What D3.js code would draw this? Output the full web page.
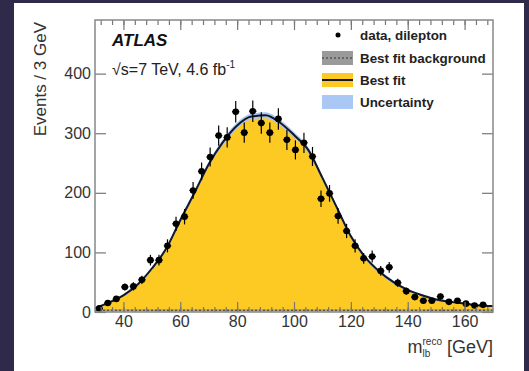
<!DOCTYPE html>
<html>
<head>
<meta charset="utf-8">
<script src="https://cdn.jsdelivr.net/npm/d3@7"></script>
<style>
	body { margin: 0; background: #2f2a4a; }
	svg { display: block; }
	text { font-family: "Liberation Sans", Arial, Helvetica, sans-serif; }
</style>
</head>
<body>
<script>
// Bin centres (3 GeV bins) and the dilepton data
var binCenters = [31.5, 34.5, 37.5, 40.5, 43.5, 46.5, 49.5, 52.5, 55.5, 58.5,
				  61.5, 64.5, 67.5, 70.5, 73.5, 76.5, 79.5, 82.5, 85.5, 88.5,
				  91.5, 94.5, 97.5, 100.5, 103.5, 106.5, 109.5, 112.5, 115.5, 118.5,
				  121.5, 124.5, 127.5, 130.5, 133.5, 136.5, 139.5, 142.5, 145.5, 148.5,
				  151.5, 154.5, 157.5, 160.5, 163.5, 166.5];
var dataCounts = [6, 15, 22, 42, 43, 54, 87, 87, 111, 148,
				  160, 204, 236, 260, 296, 293, 336, 301, 337, 317,
				  301, 324, 289, 272, 284, 261, 190, 199, 161, 136,
				  111, 90, 93, 69, 75, 49, 35, 25, 19, 19,
				  26, 17, 19, 14, 11, 12];
var dataErrors = [2, 4, 5, 6, 7, 7, 9, 9, 11, 12,
				  13, 14, 15, 16, 17, 17, 18, 17, 18, 18,
				  17, 18, 17, 16, 17, 16, 14, 14, 13, 12,
				  11, 9, 10, 8, 9, 7, 6, 5, 4, 4,
				  5, 4, 4, 4, 3, 3];

// Best fit curve, its uncertainty and the background fit
var fitMass = [30, 35, 40, 45, 50, 55, 60, 65, 70, 75, 80, 85, 90, 95, 100,
			   105, 110, 115, 120, 125, 130, 135, 140, 145, 150, 155, 160, 165, 170];
var fitValues = [6, 16, 28, 46, 73, 106, 154, 200, 248, 285, 313, 328, 330, 318, 297,
				 272, 225, 176, 127, 92, 68, 50, 37, 28, 21, 17, 14, 11, 10];
var fitUncert = [1, 2, 2, 3, 3, 3, 4, 4, 4, 5, 5, 5, 5, 5, 5,
				 5, 4, 4, 4, 3, 3, 3, 2, 2, 2, 2, 1, 1, 1];
var bgValues = [3, 3, 3, 3, 3, 3, 3, 3, 3, 3, 3, 3, 3, 3, 3,
				3, 3, 3, 3, 3, 3, 3, 3, 3, 3, 3, 3, 3, 3];
var bgUncert = [1.5, 1.5, 1.5, 1.5, 1.5, 1.5, 1.5, 1.5, 1.5, 1.5, 1.5, 1.5, 1.5, 1.5, 1.5,
				1.5, 1.5, 1.5, 1.5, 1.5, 1.5, 1.5, 1.5, 1.5, 1.5, 1.5, 1.5, 1.5, 1.5];

var xTicks = [40, 60, 80, 100, 120, 140, 160];
var yTicks = [0, 100, 200, 300, 400];

var legendLabels = ["data, dilepton", "Best fit background", "Best fit", "Uncertainty"];

var W = 529, H = 371;
var frame = {left: 95, right: 493, top: 20, bottom: 312};

var x = d3.scaleLinear().domain([30, 170]).range([frame.left, frame.right]);
var y = d3.scaleLinear().domain([0, 490]).range([frame.bottom, frame.top]);

var svg = d3.select("body").append("svg")
		.attr("width", W)
		.attr("height", H);

// White slide panel
svg.append("rect")
	.attr("x", 14).attr("y", 3)
	.attr("width", 510).attr("height", H - 3)
	.attr("fill", "#ffffff");

var plot = svg.append("g");

svg.append("defs").append("clipPath").attr("id", "clip")
	.append("rect")
	.attr("x", frame.left).attr("y", frame.top)
	.attr("width", frame.right - frame.left)
	.attr("height", frame.bottom - frame.top);

var marks = plot.append("g").attr("clip-path", "url(#clip)");

var fitPts = fitMass.map(function(m, i) {
	return {m: m, v: fitValues[i], e: fitUncert[i], b: bgValues[i], be: bgUncert[i]};
});

// Yellow best fit area
marks.append("path")
	.datum(fitPts)
	.attr("fill", "#fdc923")
	.attr("d", d3.area()
		.x(function(d) { return x(d.m); })
		.y0(y(0))
		.y1(function(d) { return y(d.v); })
		.curve(d3.curveMonotoneX));

// Uncertainty band
marks.append("path")
	.datum(fitPts)
	.attr("fill", "#a9c8f4")
	.attr("d", d3.area()
		.x(function(d) { return x(d.m); })
		.y0(function(d) { return y(d.v - d.e); })
		.y1(function(d) { return y(d.v + d.e); })
		.curve(d3.curveMonotoneX));

// Background band and dashed line
marks.append("path")
	.datum(fitPts)
	.attr("fill", "#9a9a9a")
	.attr("opacity", 0.8)
	.attr("d", d3.area()
		.x(function(d) { return x(d.m); })
		.y0(function(d) { return y(d.b - d.be); })
		.y1(function(d) { return y(d.b + d.be); }));

marks.append("path")
	.datum(fitPts)
	.attr("fill", "none")
	.attr("stroke", "#333")
	.attr("stroke-width", 1)
	.attr("stroke-dasharray", "2,2")
	.attr("d", d3.line()
		.x(function(d) { return x(d.m); })
		.y(function(d) { return y(d.b); }));

// Best fit line
marks.append("path")
	.datum(fitPts)
	.attr("fill", "none")
	.attr("stroke", "#141726")
	.attr("stroke-width", 2)
	.attr("d", d3.line()
		.x(function(d) { return x(d.m); })
		.y(function(d) { return y(d.v); })
		.curve(d3.curveMonotoneX));

// Data points with error bars
var pts = binCenters.map(function(c, i) { return {c: c, n: dataCounts[i], e: dataErrors[i]}; });
var dp = marks.selectAll(".pt").data(pts).enter().append("g").attr("class", "pt");
dp.append("line")
	.attr("x1", function(d) { return x(d.c); })
	.attr("x2", function(d) { return x(d.c); })
	.attr("y1", function(d) { return y(d.n - d.e); })
	.attr("y2", function(d) { return y(d.n + d.e); })
	.attr("stroke", "#000").attr("stroke-width", 1.2);
dp.append("line")
	.attr("x1", function(d) { return x(d.c - 1.3); })
	.attr("x2", function(d) { return x(d.c + 1.3); })
	.attr("y1", function(d) { return y(d.n); })
	.attr("y2", function(d) { return y(d.n); })
	.attr("stroke", "#000").attr("stroke-width", 1.2);
dp.append("circle")
	.attr("cx", function(d) { return x(d.c); })
	.attr("cy", function(d) { return y(d.n); })
	.attr("r", 3.3)
	.attr("fill", "#000");

// Axes, ticks inside on all four sides
var minorX = d3.range(32, 170, 4);
function styleAxis(g) {
	g.select(".domain").remove();
	g.selectAll(".tick line").attr("stroke", "#777").attr("stroke-width", 1.2);
	g.selectAll("text").attr("fill", "#333").style("font-size", "16px")
		.style("font-family", "'Liberation Sans', Arial, sans-serif");
}

plot.append("g")
	.attr("transform", "translate(0," + frame.bottom + ")")
	.call(d3.axisBottom(x).tickValues(xTicks).tickSize(-10).tickPadding(4).tickFormat(d3.format("d")))
	.call(styleAxis);
plot.append("g")
	.attr("transform", "translate(0," + frame.bottom + ")")
	.call(d3.axisBottom(x).tickValues(minorX).tickSize(-5).tickFormat(""))
	.call(styleAxis);
plot.append("g")
	.attr("transform", "translate(0," + frame.top + ")")
	.call(d3.axisTop(x).tickValues(xTicks).tickSize(-10).tickFormat(""))
	.call(styleAxis);
plot.append("g")
	.attr("transform", "translate(0," + frame.top + ")")
	.call(d3.axisTop(x).tickValues(minorX).tickSize(-5).tickFormat(""))
	.call(styleAxis);
plot.append("g")
	.attr("transform", "translate(" + frame.left + ",0)")
	.call(d3.axisLeft(y).tickValues(yTicks).tickSize(-11).tickPadding(4))
	.call(styleAxis);
plot.append("g")
	.attr("transform", "translate(" + frame.right + ",0)")
	.call(d3.axisRight(y).tickValues(yTicks).tickSize(-11).tickFormat(""))
	.call(styleAxis);

// Frame
plot.append("rect")
	.attr("x", frame.left).attr("y", frame.top)
	.attr("width", frame.right - frame.left)
	.attr("height", frame.bottom - frame.top)
	.attr("fill", "none")
	.attr("stroke", "#888")
	.attr("stroke-width", 1.5);

// Y axis title, aligned to the top
svg.append("text")
	.attr("transform", "translate(46," + (frame.top + 2) + ") rotate(-90)")
	.style("text-anchor", "end")
	.style("font-size", "17px")
	.attr("fill", "#333")
	.text("Events / 3 GeV");

// X axis title: m_lb^reco [GeV]
var xt = svg.append("text")
	.attr("x", frame.right).attr("y", 353)
	.style("text-anchor", "end")
	.style("font-size", "18px")
	.attr("fill", "#333")
	.text("[GeV]");
var gevW = xt.node().getComputedTextLength();
var supEl = svg.append("text")
	.attr("x", frame.right - gevW - 5).attr("y", 345)
	.style("text-anchor", "end")
	.style("font-size", "10px")
	.attr("fill", "#333")
	.text("reco");
var supW = supEl.node().getComputedTextLength();
svg.append("text")
	.attr("x", frame.right - gevW - 5 - supW).attr("y", 357)
	.style("font-size", "10px")
	.attr("fill", "#333")
	.text("lb");
svg.append("text")
	.attr("x", frame.right - gevW - 5 - supW).attr("y", 353)
	.style("text-anchor", "end")
	.style("font-size", "18px")
	.attr("fill", "#333")
	.text("m");

// ATLAS label
svg.append("text")
	.attr("x", 112).attr("y", 46)
	.style("font-size", "17px")
	.style("font-weight", "bold")
	.style("font-style", "italic")
	.attr("fill", "#111")
	.text("ATLAS");

var lumi = svg.append("text")
	.attr("x", 112).attr("y", 75)
	.style("font-size", "16px")
	.attr("fill", "#222");
lumi.append("tspan").text("√s=7 TeV, 4.6 fb");
lumi.append("tspan").attr("dy", -7).style("font-size", "10px").text("-1");

// Legend
var legY = [35, 58, 80, 102];
var leg = svg.append("g");
leg.selectAll(".lt").data(legendLabels).enter().append("text")
	.attr("x", 360)
	.attr("y", function(d, i) { return legY[i] + 5; })
	.style("font-size", "13.4px")
	.style("font-weight", "bold")
	.attr("fill", "#222")
	.text(function(d) { return d; });

leg.append("circle").attr("cx", 338).attr("cy", legY[0]).attr("r", 2.5).attr("fill", "#000");
// background box
leg.append("rect").attr("x", 322).attr("y", legY[1] - 7).attr("width", 31).attr("height", 14).attr("fill", "#9a9a9a");
leg.append("line").attr("x1", 322).attr("x2", 353).attr("y1", legY[1]).attr("y2", legY[1])
	.attr("stroke", "#333").attr("stroke-dasharray", "2,2");
// best fit box
leg.append("rect").attr("x", 322).attr("y", legY[2] - 7).attr("width", 31).attr("height", 14).attr("fill", "#fdc923");
leg.append("line").attr("x1", 322).attr("x2", 353).attr("y1", legY[2]).attr("y2", legY[2])
	.attr("stroke", "#141726").attr("stroke-width", 2);
// uncertainty box
leg.append("rect").attr("x", 322).attr("y", legY[3] - 7).attr("width", 31).attr("height", 14).attr("fill", "#a9c8f4");
</script>
</body>
</html>
